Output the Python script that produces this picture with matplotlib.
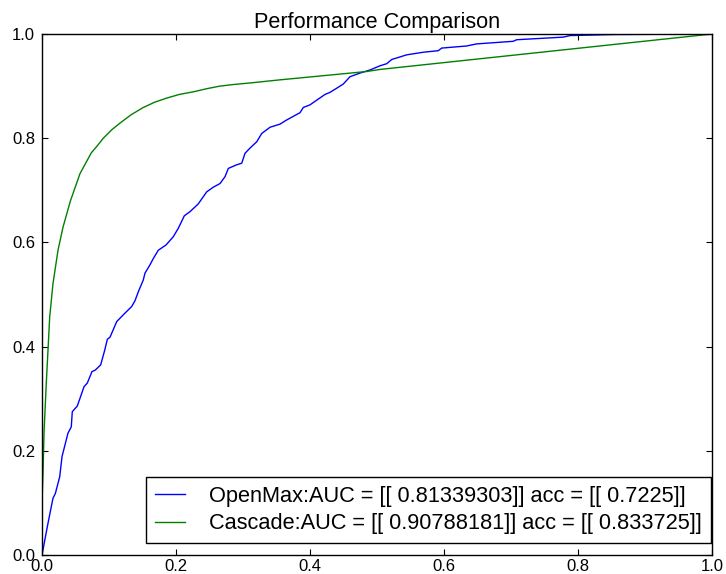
import numpy as np
import matplotlib
matplotlib.use('Agg')
import matplotlib.pyplot as plt

plt.rcParams['font.family'] = ['Liberation Sans', 'DejaVu Sans']

# ROC points, OpenMax
openmax_fpr = [0.0, 0.0079, 0.0139, 0.0164, 0.0199, 0.0264, 0.0299, 0.0388, 0.0437, 0.0452,
               0.0527, 0.0627, 0.0676, 0.0746, 0.0796, 0.0876, 0.0936, 0.0975, 0.1015, 0.1115,
               0.1213, 0.1339, 0.1388, 0.1437, 0.1512, 0.1537, 0.1612, 0.1661, 0.1736, 0.1851,
               0.1960, 0.2034, 0.2124, 0.2209, 0.2333, 0.2458, 0.2557, 0.2657, 0.2731, 0.2781,
               0.2906, 0.2981, 0.3030, 0.3104, 0.3204, 0.3279, 0.3403, 0.3552, 0.3652, 0.3851,
               0.3900, 0.4000, 0.4100, 0.4224, 0.4299, 0.4399, 0.4497, 0.4597, 0.4746, 0.4896,
               0.5045, 0.5145, 0.5219, 0.5443, 0.5691, 0.5915, 0.5966, 0.6339, 0.6488, 0.7034,
               0.7085, 0.7781, 0.7881, 0.8527, 1.0]
openmax_tpr = [0.0, 0.054, 0.093, 0.109, 0.118, 0.150, 0.189, 0.234, 0.246, 0.275,
               0.286, 0.323, 0.330, 0.352, 0.355, 0.365, 0.393, 0.414, 0.418, 0.448,
               0.461, 0.477, 0.488, 0.505, 0.528, 0.541, 0.557, 0.569, 0.585, 0.595,
               0.611, 0.627, 0.651, 0.659, 0.674, 0.697, 0.706, 0.713, 0.726, 0.742,
               0.749, 0.752, 0.771, 0.781, 0.793, 0.809, 0.821, 0.827, 0.835, 0.849,
               0.859, 0.864, 0.873, 0.884, 0.888, 0.896, 0.904, 0.918, 0.925, 0.931,
               0.939, 0.943, 0.951, 0.960, 0.965, 0.968, 0.973, 0.977, 0.981, 0.986,
               0.989, 0.994, 0.997, 0.999, 1.0]

# ROC points, Cascade
cascade_fpr = [0.0, 0.0, 0.0015, 0.003, 0.0064, 0.0115, 0.0164, 0.0239, 0.0313, 0.0425,
               0.0567, 0.0736, 0.0816, 0.0915, 0.1040, 0.1164, 0.1330, 0.1512, 0.1680, 0.1861,
               0.2050, 0.2258, 0.2458, 0.2657, 0.2855, 0.3104, 0.3552, 0.4846, 0.5045, 1.0]
cascade_tpr = [0.0, 0.10, 0.157, 0.234, 0.330, 0.457, 0.521, 0.585, 0.629, 0.680,
               0.732, 0.772, 0.784, 0.800, 0.816, 0.829, 0.845, 0.859, 0.869, 0.877,
               0.884, 0.889, 0.895, 0.900, 0.903, 0.906, 0.912, 0.928, 0.932, 1.0]

labels = ['OpenMax:AUC = [[ 0.81339303]] acc = [[ 0.7225]]',
          'Cascade:AUC = [[ 0.90788181]] acc = [[ 0.833725]]']

fig = plt.figure(figsize=(7.26, 5.74), dpi=100)
ax = fig.add_axes([42/726, 19/574, 670/726, 521/574])

ax.plot(openmax_fpr, openmax_tpr, color='b', lw=1.0, label=labels[0])
ax.plot(cascade_fpr, cascade_tpr, color='g', lw=1.0, label=labels[1])

ax.set_xlim(0, 1)
ax.set_ylim(0, 1)
ax.set_xticks(np.arange(0, 1.01, 0.2))
ax.set_yticks(np.arange(0, 1.01, 0.2))
ax.tick_params(direction='in', top=True, right=True, length=4, labelsize=12)
ax.tick_params(axis='x', pad=3)
ax.tick_params(axis='y', pad=5)
for s in ax.spines.values():
    s.set_linewidth(1.0)

ax.set_title('Performance Comparison', fontsize=15.6, pad=4)

leg = ax.legend(loc='lower right', bbox_to_anchor=(0.998, 0.023), borderaxespad=0,
                fontsize=15.7, handlelength=1.4, handletextpad=1.1, borderpad=0.4,
                labelspacing=0.3, fancybox=False, framealpha=1)
leg.get_frame().set_edgecolor('black')
leg.get_frame().set_linewidth(1.0)

fig.savefig('out.png', dpi=100)
